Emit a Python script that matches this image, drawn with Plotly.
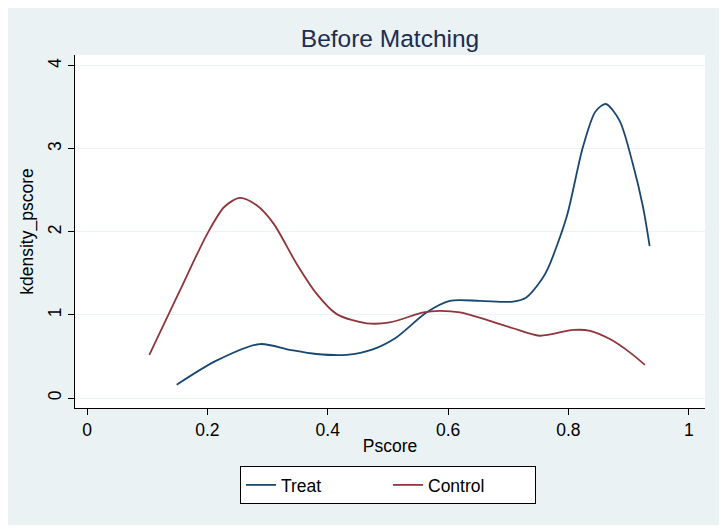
import plotly.graph_objects as go

# Data
treat_x = [0.149, 0.215, 0.287, 0.337, 0.381, 0.431, 0.476, 0.514, 0.564, 0.603, 0.653, 0.708, 0.730,
           0.755, 0.766, 0.797, 0.824, 0.845, 0.862, 0.885, 0.907, 0.924, 0.935]
treat_y = [0.16, 0.45, 0.65, 0.58, 0.53, 0.52, 0.59, 0.73, 1.03, 1.17, 1.17, 1.16, 1.21,
           1.42, 1.56, 2.18, 3.02, 3.45, 3.54, 3.34, 2.82, 2.30, 1.83]

control_x = [0.1035, 0.154, 0.200, 0.228, 0.254, 0.282, 0.310, 0.348, 0.381, 0.415,
             0.465, 0.503, 0.559, 0.586, 0.620, 0.669, 0.708, 0.752, 0.808, 0.836, 0.869, 0.902, 0.927]
control_y = [0.52, 1.29, 1.98, 2.30, 2.41, 2.32, 2.10, 1.62, 1.26, 1.01,
             0.90, 0.91, 1.03, 1.05, 1.03, 0.93, 0.84, 0.75, 0.82, 0.81, 0.71, 0.55, 0.40]

x_ticks = [0, 0.2, 0.4, 0.6, 0.8, 1]
x_tick_labels = ["0", "0.2", "0.4", "0.6", "0.8", "1"]
y_ticks = [0, 1, 2, 3, 4]
y_tick_labels = ["0", "1", "2", "3", "4"]

NAVY = "#1a476f"
MAROON = "#90353b"
BG = "#eaf2f3"
FONT = "Liberation Sans, Arial, sans-serif"

fig = go.Figure()
fig.add_trace(go.Scatter(x=treat_x, y=treat_y, mode="lines", name="Treat",
                         line=dict(color=NAVY, width=1.8, shape="spline", smoothing=0.8)))
fig.add_trace(go.Scatter(x=control_x, y=control_y, mode="lines", name="Control",
                         line=dict(color=MAROON, width=1.8, shape="spline", smoothing=0.8)))

# page body has an 8px default margin, so the figure is 8px smaller and positions are offset
OFF = 8
W, H = 728 - OFF, 532 - OFF
L, T = 75 - OFF, 55 - OFF
R = W - (705 - OFF)
B = H - (408 - OFF)
pw, ph = W - L - R, H - T - B

def px(xp):
    return (xp - OFF - L) / pw

def py(yp):
    return (H - B - (yp - OFF)) / ph

shapes = [
    dict(type="rect", xref="paper", yref="paper", layer="below",
         x0=px(5), x1=px(719), y0=py(525), y1=py(5),
         fillcolor=BG, line=dict(width=0)),
    dict(type="rect", xref="paper", yref="paper", layer="below",
         x0=0, x1=1, y0=0, y1=1, fillcolor="white", line=dict(width=0)),
]

FS = 17.5

fig.update_layout(
    width=W, height=H,
    margin=dict(l=L, r=R, t=T, b=B),
    paper_bgcolor="white",
    plot_bgcolor="white",
    shapes=shapes,
    font=dict(family=FONT, size=FS, color="#000000"),
    title=dict(text="Before Matching", x=0.5, xref="paper", xanchor="center",
               y=1 - (38 - OFF) / H, yanchor="middle",
               font=dict(family=FONT, size=24.5, color="#1e2d4f")),
    xaxis=dict(range=[-0.02, 1.027], tickvals=x_ticks, ticktext=x_tick_labels,
               showgrid=False, zeroline=False, showline=True, linecolor="#000000",
               linewidth=1, ticks="outside", ticklen=6, tickcolor="#000000",
               tickfont=dict(size=FS, family=FONT),
               title=dict(text="Pscore", standoff=0, font=dict(size=FS, family=FONT))),
    yaxis=dict(range=[-0.12, 4.13], tickvals=y_ticks, ticktext=y_tick_labels,
               showgrid=True, gridcolor=BG, gridwidth=1, zeroline=False,
               showline=True, linecolor="#000000", linewidth=1,
               ticks="outside", ticklen=6, tickcolor="#000000", tickangle=-90,
               tickfont=dict(size=FS, family=FONT),
               title=dict(text="kdensity_pscore", standoff=6, font=dict(size=FS, family=FONT))),
    showlegend=True,
    legend=dict(orientation="h", x=px(388), xanchor="center", xref="paper",
                y=py(466), yanchor="top", yref="paper",
                bgcolor="white", bordercolor="#000000", borderwidth=1,
                font=dict(size=FS, family=FONT), entrywidth=102, itemwidth=30),
)

fig.write_html("out.html")
